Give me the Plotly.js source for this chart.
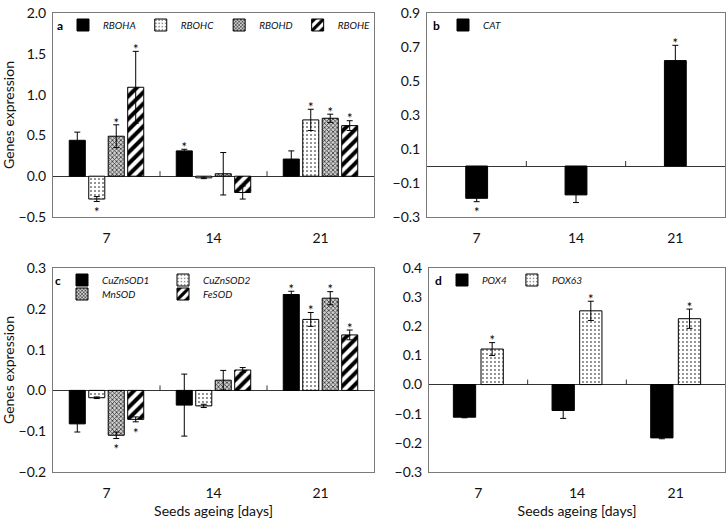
<!DOCTYPE html>
<html><head><meta charset="utf-8">
<script src="https://cdn.plot.ly/plotly-3.0.1.min.js"></script>
<style>body{margin:0;background:#fff}#chart{width:728px;height:523px}</style>
</head><body><div id="chart"></div>
<script>
// ---------- data ----------
const days = ['7', '14', '21'];

// panel a – RBOH genes
const rbohaVal = [0.44, 0.31, 0.21];   const rbohaErr = [0.10, 0.02, 0.10];  const rbohaSig = [0, 1, 0];
const rbohcVal = [-0.28, -0.02, 0.69]; const rbohcErr = [0.03, 0.01, 0.13];  const rbohcSig = [1, 0, 1];
const rbohdVal = [0.49, 0.03, 0.71];   const rbohdErr = [0.14, 0.26, 0.05];  const rbohdSig = [1, 0, 1];
const rboheVal = [1.09, -0.20, 0.62];  const rboheErr = [0.44, 0.08, 0.06];  const rboheSig = [1, 0, 1];

// panel b – CAT
const catVal = [-0.19, -0.17, 0.62];   const catErr = [0.02, 0.045, 0.09];   const catSig = [1, 0, 1];

// panel c – SOD genes
const sod1Val = [-0.082, -0.036, 0.235]; const sod1Err = [0.020, 0.076, 0.008]; const sod1Sig = [0, 0, 1];
const sod2Val = [-0.018, -0.038, 0.174]; const sod2Err = [0.002, 0.004, 0.017]; const sod2Sig = [0, 0, 1];
const mnsodVal = [-0.110, 0.025, 0.226]; const mnsodErr = [0.008, 0.024, 0.016]; const mnsodSig = [1, 0, 1];
const fesodVal = [-0.071, 0.050, 0.136]; const fesodErr = [0.006, 0.006, 0.012]; const fesodSig = [1, 0, 1];

// panel d – POX genes
const pox4Val = [-0.112, -0.089, -0.183]; const pox4Err = [0.002, 0.027, 0.003]; const pox4Sig = [0, 0, 0];
const pox63Val = [0.122, 0.253, 0.226];   const pox63Err = [0.022, 0.033, 0.033]; const pox63Sig = [1, 1, 1];

// ---------- styles ----------
const styles = {
  solid: {color: '#000'},
  dots:  {color: '#fff', pattern: {shape: '.', fgcolor: '#000', bgcolor: '#fff', size: 4, solidity: 0.12}},
  cross: {color: '#aaa', pattern: {shape: 'x', fgcolor: '#333', bgcolor: '#d0d0d0', size: 3, solidity: 0.45}},
  diag:  {color: '#fff', pattern: {shape: '/', fgcolor: '#000', bgcolor: '#fff', size: 8, solidity: 0.5}}
};

const PLOT_H = 204; // plot-area height in px, used to turn a px nudge into data units
const xs = days.map((d, i) => i);
const traces = [];

function addPanel(series, axn, legendIds, barW, gap, yRange) {
  const xa = 'x' + (axn === 1 ? '' : axn), ya = 'y' + (axn === 1 ? '' : axn);
  const n = series.length;
  const total = n * barW + (n - 1) * gap;
  const nudge = 6 * (yRange[1] - yRange[0]) / PLOT_H;
  series.forEach((s, k) => {
    const off = -total / 2 + k * (barW + gap);
    const st = styles[s.style];
    const marker = {color: st.color, line: {color: '#000', width: 1}};
    if (st.pattern) marker.pattern = st.pattern;
    traces.push({
      type: 'bar', x: xs, y: s.val, name: '<i>' + s.name + '</i>',
      xaxis: xa, yaxis: ya, width: barW, offset: off, marker: marker,
      legend: legendIds[k], showlegend: true,
      error_y: {type: 'data', array: s.err, visible: true, color: '#000', thickness: 1, width: 3},
      hoverinfo: 'skip'
    });
    const sx = [], sy = [], sp = [];
    s.val.forEach((v, i) => {
      if (s.sig[i]) {
        sx.push(i + off + barW / 2);
        sy.push((v >= 0 ? v + s.err[i] : v - s.err[i]) - nudge);
        sp.push(v >= 0 ? 'top center' : 'bottom center');
      }
    });
    if (sx.length) traces.push({
      type: 'scatter', mode: 'text', x: sx, y: sy, text: sx.map(() => '*'),
      textposition: sp, textfont: {family: 'Lato', size: 13, color: '#000'},
      xaxis: xa, yaxis: ya, showlegend: false, hoverinfo: 'skip', cliponaxis: false
    });
  });
}

const rA = [-0.5, 2.0], rB = [-0.3, 0.9], rC = [-0.2, 0.3], rD = [-0.3, 0.4];

addPanel([
  {name: 'RBOHA', val: rbohaVal, err: rbohaErr, sig: rbohaSig, style: 'solid'},
  {name: 'RBOHC', val: rbohcVal, err: rbohcErr, sig: rbohcSig, style: 'dots'},
  {name: 'RBOHD', val: rbohdVal, err: rbohdErr, sig: rbohdSig, style: 'cross'},
  {name: 'RBOHE', val: rboheVal, err: rboheErr, sig: rboheSig, style: 'diag'}
], 1, ['legend', 'legend', 'legend', 'legend'], 0.15, 0.032, rA);
addPanel([
  {name: 'CAT', val: catVal, err: catErr, sig: catSig, style: 'solid'}
], 2, ['legend2'], 0.22, 0, rB);
addPanel([
  {name: 'CuZnSOD1', val: sod1Val, err: sod1Err, sig: sod1Sig, style: 'solid'},
  {name: 'CuZnSOD2', val: sod2Val, err: sod2Err, sig: sod2Sig, style: 'dots'},
  {name: 'MnSOD', val: mnsodVal, err: mnsodErr, sig: mnsodSig, style: 'cross'},
  {name: 'FeSOD', val: fesodVal, err: fesodErr, sig: fesodSig, style: 'diag'}
], 3, ['legend3', 'legend3', 'legend5', 'legend5'], 0.15, 0.032, rC);
addPanel([
  {name: 'POX4', val: pox4Val, err: pox4Err, sig: pox4Sig, style: 'solid'},
  {name: 'POX63', val: pox63Val, err: pox63Err, sig: pox63Sig, style: 'dots'}
], 4, ['legend4', 'legend4'], 0.226, 0.054, rD);

// ---------- layout ----------
const W = 728, H = 523;
const font = {family: 'Lato, "Open Sans", sans-serif', size: 14, color: '#111'};
const px = v => v / W, py = v => 1 - v / H;

function xAxis(l, r, anchor, title) {
  const ax = {
    domain: [px(l), px(r)], anchor: anchor, range: [-0.5, days.length - 0.5],
    tickvals: xs, ticktext: days, ticks: '', showgrid: false, zeroline: false,
    showline: true, mirror: true, linecolor: '#7a7a7a', linewidth: 1,
    ticklabelstandoff: 8, tickfont: font, fixedrange: true
  };
  if (title) ax.title = {text: title, font: font, standoff: 6};
  return ax;
}
function yAxis(top, bot, anchor, rng, dt, title) {
  const ax = {
    domain: [py(bot), py(top)], anchor: anchor, range: rng, dtick: dt, tick0: rng[0],
    tickformat: '.1f', ticks: '', showgrid: false, zeroline: true, zerolinecolor: '#333',
    zerolinewidth: 1, showline: true, mirror: true, linecolor: '#7a7a7a', linewidth: 1,
    ticklabelstandoff: 3, tickfont: font, fixedrange: true
  };
  if (title) ax.title = {text: title, font: font, standoff: 7};
  return ax;
}

const legBase = {orientation: 'h', bgcolor: 'rgba(0,0,0,0)', borderwidth: 0,
  font: {family: 'Lato, sans-serif', size: 10, color: '#111'},
  xanchor: 'left', yanchor: 'middle', itemclick: false, itemdoubleclick: false, tracegroupgap: 0};

const layout = {
  width: W, height: H, margin: {l: 0, r: 0, t: 0, b: 0},
  paper_bgcolor: '#fff', plot_bgcolor: '#fff', barmode: 'overlay', font: font,
  xaxis:  xAxis(53, 374, 'y'),
  yaxis:  yAxis(13, 217, 'x', rA, 0.5, 'Genes expression'),
  xaxis2: xAxis(427, 725, 'y2'),
  yaxis2: yAxis(13, 217, 'x2', rB, 0.2),
  xaxis3: xAxis(53, 374, 'y3', 'Seeds ageing [days]'),
  yaxis3: yAxis(268, 472, 'x3', rC, 0.1, 'Genes expression'),
  xaxis4: xAxis(429, 725, 'y4', 'Seeds ageing [days]'),
  yaxis4: yAxis(268, 472, 'x4', rD, 0.1),
  legend:  Object.assign({}, legBase, {x: px(63), y: py(25)}),
  legend2: Object.assign({}, legBase, {x: px(443), y: py(25)}),
  legend3: Object.assign({}, legBase, {x: px(62), y: py(280), entrywidth: 56}),
  legend5: Object.assign({}, legBase, {x: px(62), y: py(294), entrywidth: 56}),
  legend4: Object.assign({}, legBase, {x: px(442), y: py(280)}),
  annotations: [
    ['a', 60, 25], ['b', 436, 25], ['c', 58, 280], ['d', 438, 280]
  ].map(([t, x, y]) => ({text: '<b>' + t + '</b>', x: px(x), y: py(y), xref: 'paper', yref: 'paper',
    showarrow: false, xanchor: 'center', yanchor: 'middle', font: {family: 'Lato, sans-serif', size: 12, color: '#000'}})),
  shapes: []
};

// small category-boundary ticks on the zero line
[1, 2, 3, 4].forEach(k => {
  const s = k === 1 ? '' : String(k);
  for (let i = 1; i < days.length; i++) {
    layout.shapes.push({type: 'line', xref: 'x' + s, yref: 'y' + s, x0: i - 0.5, x1: i - 0.5,
      ysizemode: 'pixel', yanchor: 0, y0: 0, y1: 5, line: {color: '#333', width: 1}});
  }
});

Plotly.newPlot('chart', traces, layout, {staticPlot: true, displayModeBar: false});
</script>
</body></html>
